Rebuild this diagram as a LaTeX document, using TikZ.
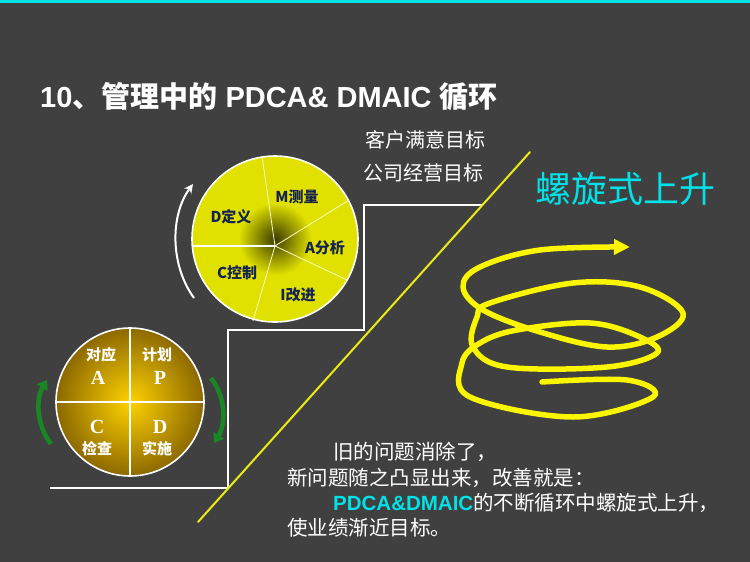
\documentclass[tikz,border=0pt]{standalone}
\usepackage{fontspec}
\setmainfont{Liberation Sans}
\newfontfamily\cjk{Noto Sans CJK SC}
\newfontfamily\latin{Liberation Sans}
\newfontfamily\romanbf{Liberation Serif}
\usetikzlibrary{arrows.meta}
\definecolor{slidegray}{RGB}{64,64,64}
\definecolor{cyanmark}{RGB}{0,225,232}
\definecolor{spiralyellow}{RGB}{250,245,0}
\definecolor{stepyellow}{RGB}{235,235,20}
\definecolor{goldlight}{RGB}{255,210,0}
\definecolor{golddark}{RGB}{140,105,0}
\definecolor{pieyellow}{RGB}{225,225,0}
\definecolor{piedark}{RGB}{60,60,0}
\definecolor{navytext}{RGB}{20,35,80}
\definecolor{leafgreen}{RGB}{25,135,35}
\pgfdeclareradialshading{dmaicglow}{\pgfpoint{0bp}{0bp}}{color(0bp)=(piedark); color(11bp)=(pieyellow); color(50bp)=(pieyellow)}

\begin{document}
\begin{tikzpicture}[x=1pt, y=-1pt,
    goal/.style={white, font=\cjk\fontsize{20}{22}\selectfont, anchor=west},
    pdcatext/.style={white, font=\cjk\bfseries\fontsize{15}{17}\selectfont},
    pdcaletter/.style={white, font=\romanbf\bfseries\fontsize{20}{22}\selectfont},
    dmaictext/.style={navytext, font=\cjk\bfseries\fontsize{15}{17}\selectfont},
    remark/.style={white, font=\cjk\fontsize{20.5}{22}\selectfont, anchor=west, inner sep=0pt}]
    % Slide background
    \fill[slidegray] (0,0) rectangle (750,562);
    \useasboundingbox (0,0) rectangle (750,562);
    \fill[cyanmark] (0,0) rectangle (750,2.5);

    % Title
    \node[white, font=\bfseries\fontsize{29}{30}\selectfont, anchor=west, inner sep=0pt] (title) at (40,97)
        {{\latin 10}{\cjk 、管理中的} {\latin PDCA\& DMAIC} {\cjk 循环}};

    % Staircase
    \draw[white, line width=2pt] (50,488) -- (228,488) -- (228,330) -- (364,330) -- (364,205) -- (483,205);
    \draw[stepyellow, line width=2pt, line cap=round] (198,522) -- (530,152);

    % Goals on top step
    \node[goal] (customer) at (362,140) {客户满意目标};
    \node[goal] (company) at (360,173) {公司经营目标};

    % PDCA wheel
    \shade[inner color=goldlight, outer color=golddark] (130,402) circle (74pt);
    \draw[white, line width=1.6pt] (130,402) circle (74pt);
    \draw[white, line width=1.6pt] (56,402) -- (204,402) (130,328) -- (130,476);
    \node[pdcatext] (actcn) at (101,355) {对应};
    \node[pdcaletter] (actlt) at (98,378) {A};
    \node[pdcatext] (plancn) at (157,355) {计划};
    \node[pdcaletter] (planlt) at (160,378) {P};
    \node[pdcaletter] (checklt) at (97,427) {C};
    \node[pdcatext] (checkcn) at (97,449) {检查};
    \node[pdcaletter] (dolt) at (160,427) {D};
    \node[pdcatext] (docn) at (157,449) {实施};

    % Turning arrows beside PDCA
    \draw[leafgreen, line width=4.5pt, -{Triangle[length=9pt,width=12pt]}] (51,444) .. controls (36,425) and (36,398) .. (47,380);
    \draw[leafgreen, line width=4.5pt, -{Triangle[length=9pt,width=12pt]}] (211,378) .. controls (226,397) and (226,424) .. (214,443);

    % DMAIC wheel
    \shade[shading=dmaicglow] (275,239) circle (83pt);
    \draw[white, line width=1.6pt] (275,239) circle (83pt);
    \draw[white, line width=1.6pt] (275,246) -- (192,246);
    \draw[white!80!pieyellow, line width=0.8pt] (275,246) -- (262,156) (275,246) -- (349,200) (275,246) -- (347,280) (275,246) -- (253,321);
    \node[dmaictext] (define) at (231,217) {D定义};
    \node[dmaictext] (measure) at (297,197) {M测量};
    \node[dmaictext] (analyze) at (325,248) {A分析};
    \node[dmaictext] (control) at (237,273) {C控制};
    \node[dmaictext] (improve) at (298,295) {I改进};
    \draw[white, line width=2pt, -{Stealth[length=9pt,width=9pt]}] (194,298) .. controls (170,265) and (170,215) .. (193,184);

    % Spiral
    \node[cyanmark, font=\cjk\fontsize{36}{40}\selectfont] (rise) at (625,189) {螺旋式上升};
    \draw[spiralyellow, line width=5.5pt, line cap=round, -{Triangle[length=16pt,width=15pt]}]
        plot[smooth, tension=0.6] coordinates {(542,382) (627,380) (653,397) (573,417) (470,397)
        (462,363) (480,343) (517,330) (590,323) (640,337) (657,353) (607,367) (507,367) (473,347)
        (477,317) (490,303) (573,283) (640,287) (683,313) (657,337) (607,347) (540,332) (483,310)
        (463,287) (480,267) (540,250) (630,247)};

    % Remarks
    \node[remark] (old) at (333,452) {旧的问题消除了，};
    \node[remark] (new) at (287,478) {新问题随之凸显出来，改善就是：};
    \node[remark] (loop) at (333,503) {{\latin\bfseries\color{cyanmark}PDCA\&DMAIC}的不断循环中螺旋式上升，};
    \node[remark] (goalnear) at (287,528) {使业绩渐近目标。};
\end{tikzpicture}
\end{document}
